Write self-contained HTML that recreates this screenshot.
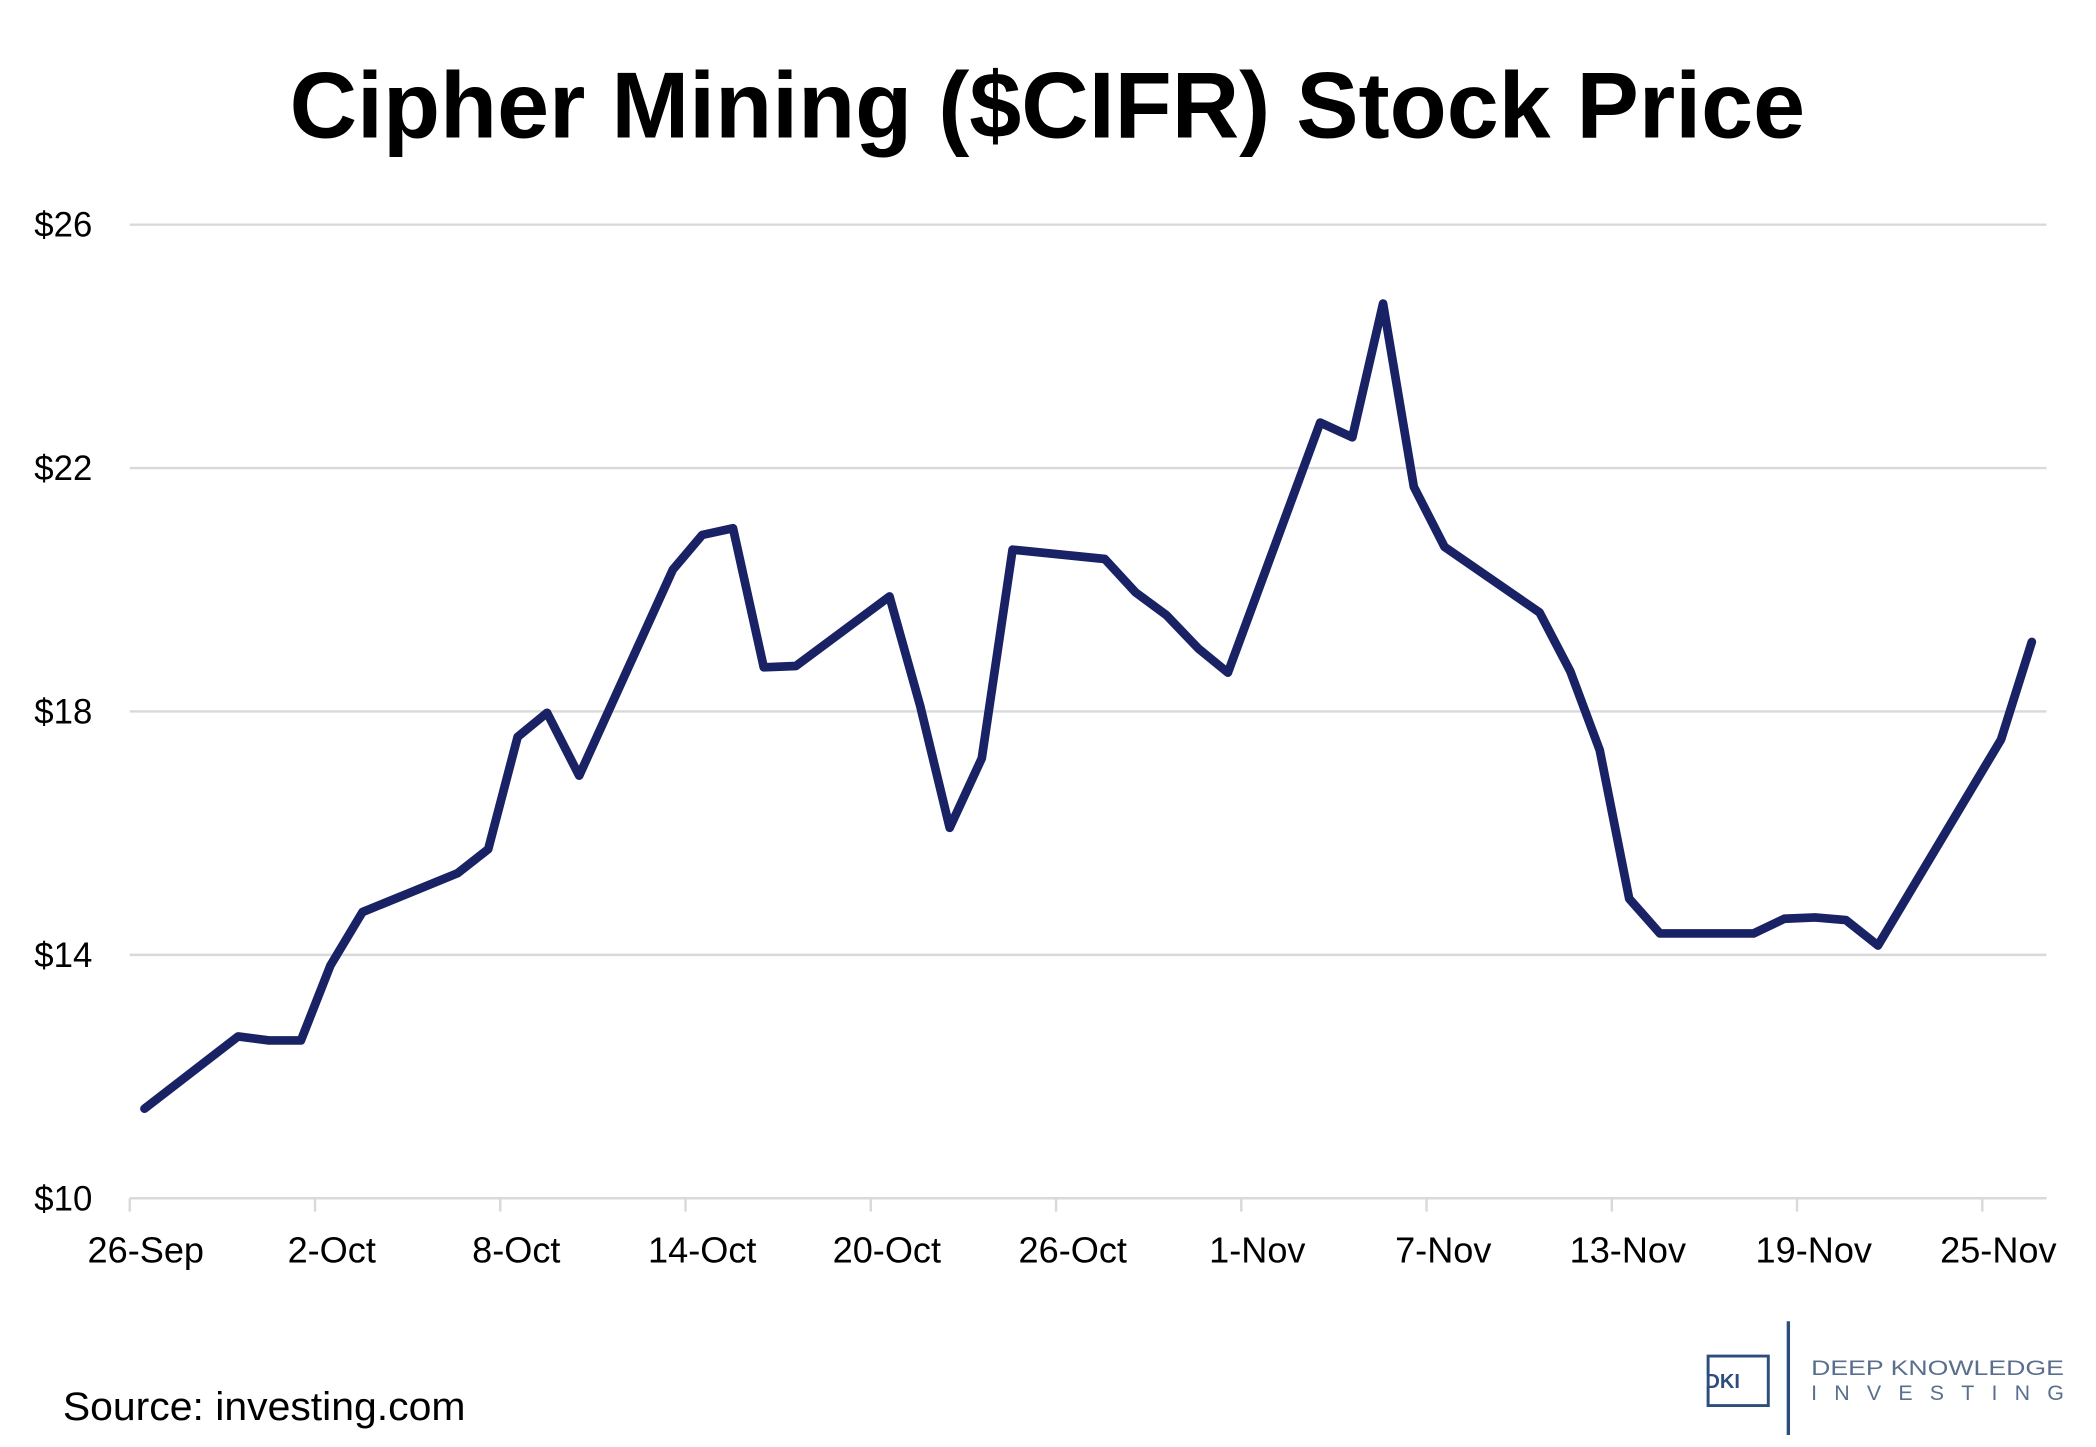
<!DOCTYPE html>
<html><head><style>html,body{margin:0;padding:0;background:#fff;}svg{display:block;}</style></head>
<body>
<svg width="2096" height="1447" viewBox="0 0 1567 1082" preserveAspectRatio="none" xmlns="http://www.w3.org/2000/svg" font-family="Liberation Sans, sans-serif">
<rect width="1567" height="1082" fill="#fff"/>
<text x="783" y="103" text-anchor="middle" font-size="70" font-weight="bold" textLength="1133" lengthAdjust="spacingAndGlyphs" fill="#000">Cipher Mining ($CIFR) Stock Price</text>
<g stroke="#d9d9d9" stroke-width="1.8">
<line x1="97" y1="168" x2="1530" y2="168"/>
<line x1="97" y1="350" x2="1530" y2="350"/>
<line x1="97" y1="532" x2="1530" y2="532"/>
<line x1="97" y1="714" x2="1530" y2="714"/>
<line x1="97" y1="896" x2="1530" y2="896"/>
<g>
<line x1="97" y1="896" x2="97" y2="906"/><line x1="235.5" y1="896" x2="235.5" y2="906"/><line x1="374" y1="896" x2="374" y2="906"/><line x1="512.5" y1="896" x2="512.5" y2="906"/><line x1="651" y1="896" x2="651" y2="906"/><line x1="789.5" y1="896" x2="789.5" y2="906"/><line x1="928" y1="896" x2="928" y2="906"/><line x1="1066.5" y1="896" x2="1066.5" y2="906"/><line x1="1205" y1="896" x2="1205" y2="906"/><line x1="1343.5" y1="896" x2="1343.5" y2="906"/><line x1="1482" y1="896" x2="1482" y2="906"/>
</g></g>
<g font-size="26" fill="#000" text-anchor="end">
<text x="69" y="177">$26</text><text x="69" y="359">$22</text><text x="69" y="541">$18</text><text x="69" y="723">$14</text><text x="69" y="905">$10</text>
</g>
<g font-size="27" fill="#000" text-anchor="middle">
<text x="109" y="944">26-Sep</text><text x="248" y="944">2-Oct</text><text x="386" y="944">8-Oct</text><text x="525" y="944">14-Oct</text><text x="663" y="944">20-Oct</text><text x="802" y="944">26-Oct</text><text x="940" y="944">1-Nov</text><text x="1079" y="944">7-Nov</text><text x="1217" y="944">13-Nov</text><text x="1356" y="944">19-Nov</text><text x="1494" y="944">25-Nov</text>
</g>
<polyline fill="none" stroke="#1a2266" stroke-width="6.5" stroke-linejoin="round" stroke-linecap="round" points="108,829 178,775 201,778 225,778 247,722 271,682 342,653 365,635 387,551 409,533 433,580 503,426 525,400 548,395 571,499 595,498 665,446 688,528 710,619 734,567 757,411 826,418 849,443 872,460 896,485 918,503 987,316 1011,327 1034,227 1057,364 1080,409 1151,458 1174,502 1196,561 1218,672 1241,698 1311,698 1334,687 1357,686 1380,688 1404,707 1496,553 1519,480"/>
<text x="47" y="1062" font-size="30" fill="#000" textLength="301" lengthAdjust="spacingAndGlyphs">Source: investing.com</text>
<g>
<path d="M1277 1028 V1014 H1322 V1051 H1277 V1037" fill="none" stroke="#2d4e7c" stroke-width="2.2"/>
<text x="1275" y="1038" font-size="15" font-weight="bold" fill="#2d4e7c">DKI</text>
<line x1="1337" y1="988" x2="1337" y2="1073" stroke="#2d4e7c" stroke-width="2.5"/>
<text x="1354" y="1028" font-size="16" fill="#5a6f8e" textLength="189" lengthAdjust="spacingAndGlyphs">DEEP KNOWLEDGE</text>
<text x="1354" y="1047" font-size="16" fill="#5a6f8e" textLength="189" lengthAdjust="spacing">INVESTING</text>
</g>
</svg>
</body></html>
